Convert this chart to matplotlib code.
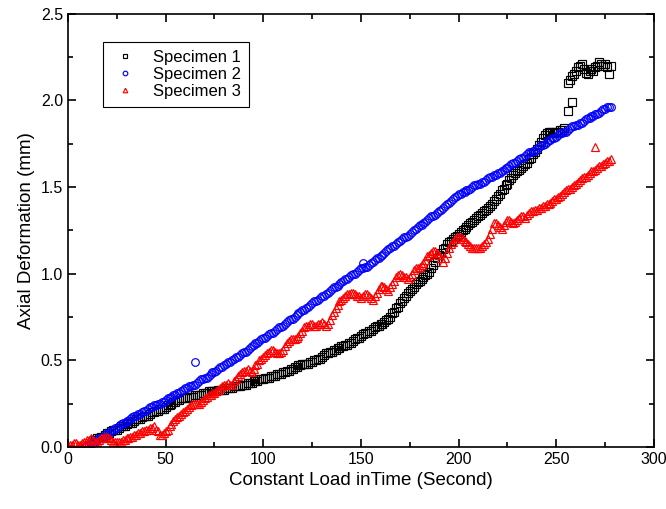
import numpy as np
import matplotlib
matplotlib.use('Agg')
import matplotlib.pyplot as plt
from matplotlib.ticker import MultipleLocator, FormatStrFormatter

plt.rcParams['font.family'] = ['Liberation Sans', 'DejaVu Sans']

# Specimen 1: 1 s samples from 14 s to 254 s
s1_start = 14
s1_y = [0.04, 0.05, 0.05, 0.06, 0.06, 0.07, 0.08, 0.08, 0.09, 0.10,
        0.10, 0.10, 0.11, 0.12, 0.12, 0.12, 0.13, 0.14, 0.14, 0.14,
        0.15, 0.16, 0.16, 0.16, 0.17, 0.18, 0.18, 0.18, 0.19, 0.20,
        0.20, 0.21, 0.21, 0.22, 0.22, 0.22, 0.23, 0.24, 0.24, 0.25,
        0.26, 0.26, 0.27, 0.27, 0.28, 0.28, 0.28, 0.28, 0.29, 0.29,
        0.29, 0.30, 0.30, 0.30, 0.30, 0.31, 0.31, 0.31, 0.32, 0.32,
        0.32, 0.32, 0.32, 0.33, 0.33, 0.33, 0.33, 0.34, 0.34, 0.34,
        0.34, 0.35, 0.35, 0.35, 0.35, 0.36, 0.36, 0.36, 0.37, 0.37,
        0.37, 0.38, 0.38, 0.38, 0.39, 0.39, 0.39, 0.40, 0.40, 0.40,
        0.41, 0.41, 0.41, 0.42, 0.42, 0.42, 0.43, 0.43, 0.44, 0.44,
        0.45, 0.45, 0.46, 0.46, 0.47, 0.47, 0.48, 0.48, 0.48, 0.48,
        0.49, 0.49, 0.50, 0.50, 0.51, 0.51, 0.52, 0.53, 0.54, 0.54,
        0.55, 0.55, 0.56, 0.56, 0.57, 0.57, 0.58, 0.58, 0.59, 0.59,
        0.60, 0.60, 0.61, 0.62, 0.63, 0.63, 0.64, 0.65, 0.66, 0.66,
        0.67, 0.67, 0.68, 0.69, 0.70, 0.70, 0.71, 0.71, 0.72, 0.73,
        0.74, 0.75, 0.77, 0.78, 0.80, 0.81, 0.83, 0.84, 0.86, 0.87,
        0.89, 0.90, 0.91, 0.92, 0.94, 0.95, 0.96, 0.97, 0.98, 0.99,
        1.00, 1.01, 1.03, 1.05, 1.07, 1.09, 1.11, 1.12, 1.14, 1.15,
        1.17, 1.18, 1.19, 1.20, 1.21, 1.22, 1.23, 1.24, 1.25, 1.26,
        1.27, 1.28, 1.29, 1.30, 1.31, 1.32, 1.33, 1.34, 1.35, 1.36,
        1.37, 1.38, 1.39, 1.40, 1.42, 1.43, 1.45, 1.46, 1.48, 1.49,
        1.51, 1.52, 1.54, 1.55, 1.57, 1.58, 1.59, 1.60, 1.61, 1.62,
        1.63, 1.64, 1.66, 1.67, 1.69, 1.70, 1.72, 1.74, 1.76, 1.78,
        1.80, 1.81, 1.82, 1.82, 1.82, 1.81, 1.82, 1.82, 1.83, 1.83, 1.84]
s1_tail_x = [256, 258, 256, 257, 258, 259, 260, 261, 262, 263, 264, 265, 266, 267, 268,
             269, 270, 271, 272, 273, 274, 275, 276, 277, 278]
s1_tail_y = [1.94, 1.99, 2.10, 2.12, 2.14, 2.15, 2.17, 2.19, 2.20, 2.21, 2.18, 2.16, 2.15,
             2.17, 2.18, 2.17, 2.19, 2.20, 2.22, 2.21, 2.20, 2.21, 2.19, 2.15, 2.20]

# Specimen 2: 1 s samples from 8 s to 278 s
s2_start = 8
s2_y = [0.00, 0.00, 0.01, 0.01, 0.02, 0.02, 0.03, 0.04, 0.05, 0.05,
        0.06, 0.07, 0.08, 0.08, 0.09, 0.10, 0.11, 0.11, 0.12, 0.13,
        0.14, 0.14, 0.15, 0.15, 0.16, 0.17, 0.18, 0.18, 0.19, 0.19,
        0.20, 0.21, 0.21, 0.22, 0.23, 0.23, 0.24, 0.24, 0.25, 0.25,
        0.26, 0.26, 0.27, 0.28, 0.28, 0.29, 0.30, 0.30, 0.31, 0.31,
        0.32, 0.33, 0.34, 0.34, 0.35, 0.35, 0.36, 0.36, 0.37, 0.38,
        0.39, 0.39, 0.40, 0.40, 0.41, 0.42, 0.43, 0.43, 0.44, 0.45,
        0.46, 0.46, 0.47, 0.48, 0.49, 0.49, 0.50, 0.51, 0.52, 0.52,
        0.53, 0.54, 0.55, 0.55, 0.56, 0.57, 0.58, 0.59, 0.60, 0.60,
        0.61, 0.62, 0.63, 0.63, 0.64, 0.65, 0.66, 0.66, 0.67, 0.68,
        0.69, 0.69, 0.70, 0.71, 0.72, 0.73, 0.74, 0.74, 0.75, 0.76,
        0.77, 0.78, 0.79, 0.79, 0.80, 0.81, 0.82, 0.83, 0.84, 0.84,
        0.85, 0.86, 0.87, 0.87, 0.88, 0.89, 0.90, 0.91, 0.92, 0.92,
        0.93, 0.94, 0.95, 0.96, 0.97, 0.97, 0.98, 0.99, 1.00, 1.00,
        1.01, 1.02, 1.03, 1.03, 1.04, 1.04, 1.05, 1.06, 1.07, 1.08,
        1.09, 1.09, 1.10, 1.11, 1.12, 1.13, 1.14, 1.15, 1.16, 1.16,
        1.17, 1.18, 1.19, 1.20, 1.21, 1.21, 1.22, 1.23, 1.24, 1.25,
        1.26, 1.27, 1.28, 1.28, 1.29, 1.30, 1.31, 1.32, 1.33, 1.33,
        1.34, 1.35, 1.36, 1.37, 1.38, 1.39, 1.40, 1.41, 1.42, 1.43,
        1.44, 1.45, 1.46, 1.46, 1.47, 1.47, 1.48, 1.48, 1.49, 1.50,
        1.51, 1.51, 1.52, 1.52, 1.53, 1.53, 1.54, 1.55, 1.56, 1.56,
        1.57, 1.57, 1.58, 1.58, 1.59, 1.60, 1.61, 1.61, 1.62, 1.63,
        1.64, 1.64, 1.65, 1.66, 1.67, 1.67, 1.68, 1.69, 1.70, 1.70,
        1.71, 1.71, 1.72, 1.73, 1.74, 1.74, 1.75, 1.76, 1.77, 1.77,
        1.78, 1.78, 1.79, 1.80, 1.81, 1.81, 1.82, 1.82, 1.83, 1.84,
        1.85, 1.85, 1.86, 1.86, 1.87, 1.87, 1.88, 1.89, 1.90, 1.90,
        1.91, 1.91, 1.92, 1.92, 1.93, 1.94, 1.95, 1.95, 1.96, 1.96,
        1.96]
s2_extra_x = [65, 151]
s2_extra_y = [0.49, 1.06]

# Specimen 3: 1 s samples from 0 s to 278 s
s3_start = 0
s3_y = [0.00, 0.01, 0.01, 0.02, 0.02, 0.01, 0.01, 0.02, 0.03, 0.03,
        0.04, 0.04, 0.05, 0.04, 0.03, 0.03, 0.04, 0.05, 0.05, 0.06,
        0.06, 0.05, 0.04, 0.03, 0.03, 0.03, 0.03, 0.03, 0.04, 0.04,
        0.05, 0.05, 0.06, 0.06, 0.07, 0.07, 0.08, 0.08, 0.09, 0.09,
        0.10, 0.10, 0.11, 0.11, 0.12, 0.10, 0.09, 0.07, 0.07, 0.08,
        0.09, 0.10, 0.12, 0.13, 0.15, 0.16, 0.17, 0.18, 0.19, 0.20,
        0.21, 0.22, 0.23, 0.24, 0.25, 0.25, 0.25, 0.25, 0.26, 0.27,
        0.28, 0.29, 0.30, 0.30, 0.31, 0.31, 0.32, 0.33, 0.34, 0.35,
        0.36, 0.36, 0.37, 0.36, 0.36, 0.38, 0.39, 0.41, 0.42, 0.43,
        0.44, 0.44, 0.45, 0.44, 0.43, 0.45, 0.47, 0.48, 0.50, 0.51,
        0.52, 0.53, 0.54, 0.55, 0.56, 0.56, 0.55, 0.54, 0.54, 0.55,
        0.56, 0.58, 0.60, 0.61, 0.62, 0.62, 0.62, 0.63, 0.64, 0.66,
        0.67, 0.69, 0.70, 0.70, 0.71, 0.71, 0.70, 0.70, 0.71, 0.71,
        0.72, 0.71, 0.70, 0.71, 0.73, 0.76, 0.78, 0.80, 0.82, 0.84,
        0.85, 0.86, 0.87, 0.88, 0.88, 0.89, 0.89, 0.88, 0.87, 0.87,
        0.86, 0.87, 0.88, 0.88, 0.87, 0.86, 0.85, 0.87, 0.89, 0.91,
        0.93, 0.93, 0.92, 0.91, 0.90, 0.92, 0.94, 0.96, 0.98, 0.99,
        1.00, 0.99, 0.98, 0.98, 0.97, 0.98, 1.00, 1.02, 1.03, 1.03,
        1.04, 1.05, 1.06, 1.08, 1.10, 1.11, 1.12, 1.13, 1.13, 1.12,
        1.11, 1.09, 1.07, 1.09, 1.12, 1.15, 1.17, 1.18, 1.20, 1.21,
        1.21, 1.21, 1.20, 1.19, 1.18, 1.17, 1.16, 1.15, 1.15, 1.15,
        1.15, 1.15, 1.16, 1.17, 1.18, 1.20, 1.23, 1.26, 1.29, 1.29,
        1.28, 1.27, 1.26, 1.28, 1.30, 1.31, 1.31, 1.30, 1.29, 1.30,
        1.31, 1.32, 1.33, 1.33, 1.32, 1.34, 1.35, 1.36, 1.36, 1.37,
        1.37, 1.38, 1.38, 1.39, 1.39, 1.40, 1.40, 1.41, 1.42, 1.43,
        1.43, 1.44, 1.45, 1.46, 1.47, 1.48, 1.49, 1.49, 1.50, 1.51,
        1.52, 1.53, 1.54, 1.55, 1.56, 1.56, 1.57, 1.58, 1.59, 1.59,
        1.60, 1.61, 1.62, 1.62, 1.63, 1.64, 1.65, 1.65, 1.66]
s3_extra_x = [270]
s3_extra_y = [1.73]

s1_x = list(s1_start + np.arange(len(s1_y))) + s1_tail_x
s1_all = s1_y + s1_tail_y
s2_x = list(s2_start + np.arange(len(s2_y))) + s2_extra_x
s2_all = s2_y + s2_extra_y
s3_x = list(s3_start + np.arange(len(s3_y))) + s3_extra_x
s3_all = s3_y + s3_extra_y

fig = plt.figure(figsize=(6.66, 5.09), dpi=100)
ax = fig.add_axes([0.102, 0.122, 0.880, 0.851])

mk = dict(linestyle='none', markerfacecolor='none', markersize=5.5, markeredgewidth=0.85)
ax.plot(s1_x, s1_all, marker='s', color='black', label='Specimen 1', **mk)
ax.plot(s2_x, s2_all, marker='o', color='blue', label='Specimen 2', **mk)
ax.plot(s3_x, s3_all, marker='^', color='red', label='Specimen 3', **mk)

ax.set_xlim(0, 300)
ax.set_ylim(0, 2.5)
ax.xaxis.set_major_locator(MultipleLocator(50))
ax.xaxis.set_minor_locator(MultipleLocator(25))
ax.yaxis.set_major_locator(MultipleLocator(0.5))
ax.yaxis.set_minor_locator(MultipleLocator(0.25))
ax.yaxis.set_major_formatter(FormatStrFormatter('%.1f'))
ax.tick_params(which='both', direction='in', top=True, right=True, labelsize=11.5, width=1.2)
ax.tick_params(which='major', length=6)
ax.tick_params(which='minor', length=3.5)
for s in ax.spines.values():
    s.set_linewidth(1.2)

ax.set_xlabel('Constant Load inTime (Second)', fontsize=13.5)
ax.set_ylabel('Axial Deformation (mm)', fontsize=13.5)

leg = ax.legend(loc='upper left', bbox_to_anchor=(0.06, 0.935), borderaxespad=0,
                fontsize=12, markerscale=0.6, handlelength=1.6, handletextpad=0.9,
                labelspacing=0.1, fancybox=False, edgecolor='black', framealpha=1,
                borderpad=0.5)
leg.get_frame().set_linewidth(0.8)

fig.savefig('out.png', dpi=100)
